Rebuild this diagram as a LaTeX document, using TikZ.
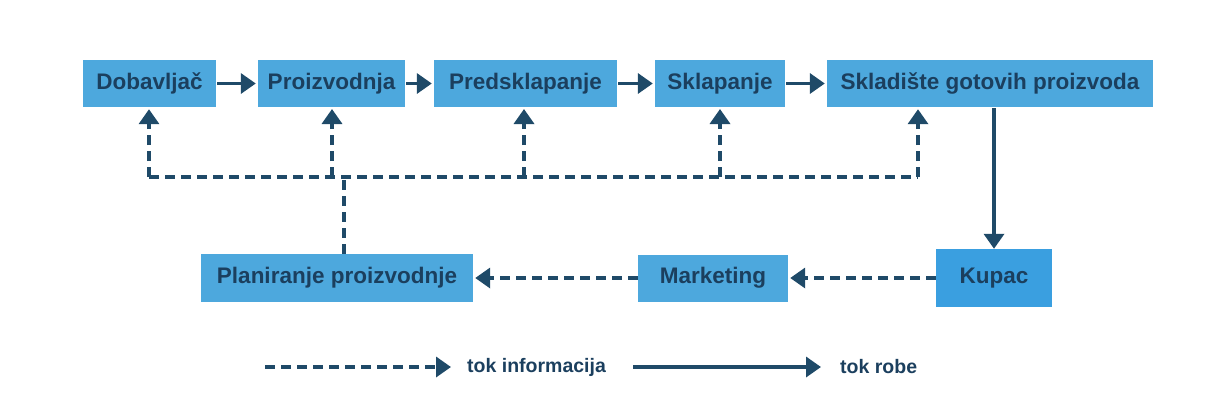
\documentclass[tikz,border=0pt]{standalone}
\usepackage{fontspec}
\setmainfont{Liberation Sans}
\usetikzlibrary{arrows.meta}
\definecolor{boxblue}{HTML}{4DA8DD}
\definecolor{kupblue}{HTML}{3A9FE0}
\definecolor{navy}{HTML}{1F4A68}
\definecolor{txt}{HTML}{1B3F5E}
\tikzset{
  box/.style={fill=boxblue, draw=none, inner sep=0pt, text=txt, font=\fontsize{22.5}{26}\selectfont\bfseries},
  flow/.style={draw=navy, line width=3.5pt, -{Triangle[length=15pt,width=20pt]}},
  info/.style={draw=navy, line width=3.5pt, dash pattern=on 10pt off 6pt, -{Triangle[length=15pt,width=20pt]}},
  infoline/.style={draw=navy, line width=3.5pt, dash pattern=on 10pt off 6pt},
  legtxt/.style={text=txt, font=\fontsize{19.5}{22}\selectfont\bfseries, anchor=west, inner sep=0pt},
}
\begin{document}
\begin{tikzpicture}[x=1pt,y=-1pt]
\useasboundingbox (0,0) rectangle (1214,416);
% top row
\node[box, minimum width=133pt, minimum height=47pt] (dob) at (149.5,83.5) {Dobavljač};
\node[box, minimum width=147pt, minimum height=47pt] (pro) at (331.5,83.5) {Proizvodnja};
\node[box, minimum width=183pt, minimum height=47pt] (pred) at (525.5,83.5) {Predsklapanje};
\node[box, minimum width=130pt, minimum height=47pt] (skl) at (720,83.5) {Sklapanje};
\node[box, minimum width=326pt, minimum height=47pt] (sklad) at (990,83.5) {Skladište gotovih proizvoda};
% bottom row
\node[box, minimum width=272pt, minimum height=48pt] (plan) at (337,278) {Planiranje proizvodnje};
\node[box, minimum width=150pt, minimum height=47pt] (mkt) at (713,278) {Marketing};
\node[box, fill=kupblue, minimum width=116pt, minimum height=58pt] (kup) at (994,278) {Kupac};
% goods flow
\draw[flow, shorten <=1pt, shorten >=2pt] (dob.east) -- (pro.west);
\draw[flow, shorten <=1pt, shorten >=2pt] (pro.east) -- (pred.west);
\draw[flow, shorten <=1pt, shorten >=2pt] (pred.east) -- (skl.west);
\draw[flow, shorten <=1pt, shorten >=2pt] (skl.east) -- (sklad.west);
\draw[flow, shorten <=1pt] (sklad.south -| kup.north) -- (kup.north);
% info flow
\coordinate (hl) at (149,177);
\coordinate (hr) at (918,177);
\coordinate (hj) at (344,177);
\draw[infoline] (hl) -- (hr);
\draw[infoline] (plan.north -| hj) -- (hj);
\draw[info, shorten >=2pt] (hl) -- (hl |- dob.south);
\draw[info, shorten >=2pt] (332,177) -- (332,107);
\draw[info, shorten >=2pt] (524,177) -- (524,107);
\draw[info, shorten >=2pt] (720,177) -- (720,107);
\draw[info, shorten >=2pt] (hr) -- (hr |- sklad.south);
\draw[info, shorten >=2pt] (kup.west) -- (mkt.east);
\draw[info, shorten >=2pt] (mkt.west) -- (plan.east);
% legend
\coordinate (l1a) at (265,367);
\coordinate (l1b) at (451,367);
\node[legtxt] (ltxt1) at (467,367) {tok informacija};
\coordinate (l2a) at (633,367);
\coordinate (l2b) at (821,367);
\node[legtxt] (ltxt2) at (840,367) {tok robe};
\draw[info] (l1a) -- (l1b);
\draw[flow] (l2a) -- (l2b);
\end{tikzpicture}
\end{document}
